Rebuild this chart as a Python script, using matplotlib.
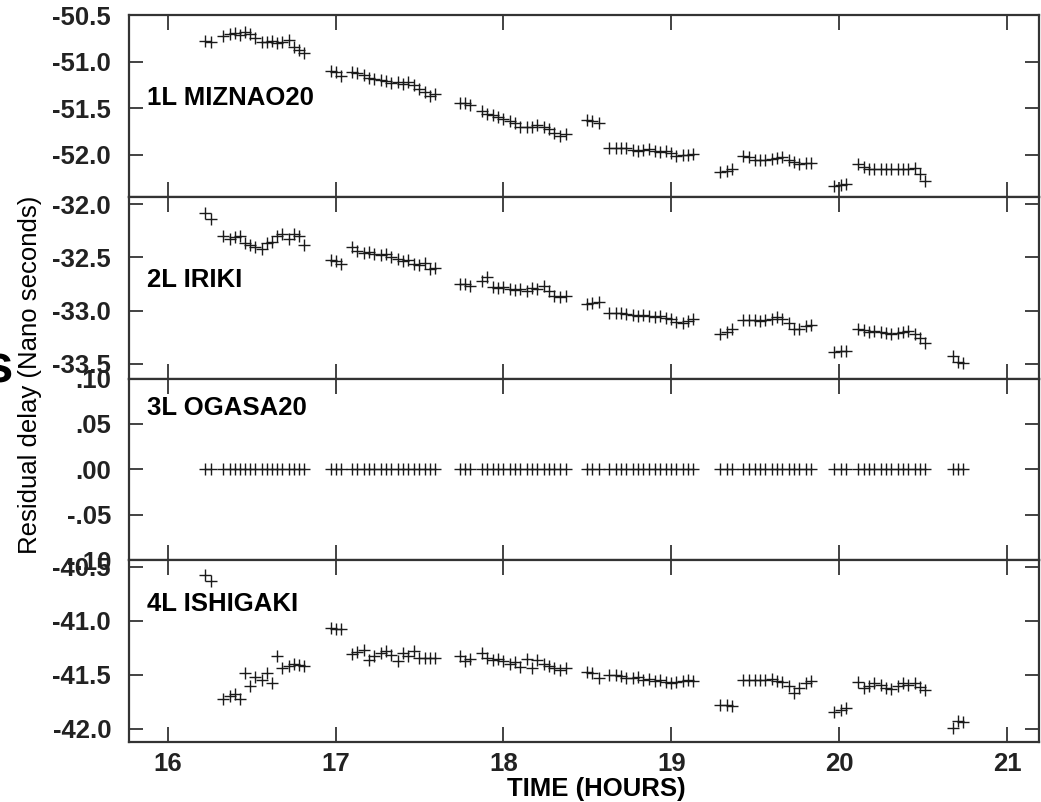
import numpy as np
import matplotlib
matplotlib.use("Agg")
import matplotlib.pyplot as plt

plt.rcParams['font.family'] = ['Liberation Sans', 'DejaVu Sans']

# scan times (hours), one list per scan block
t1 = [16.22, 16.26, 16.33, 16.37, 16.40, 16.43, 16.46, 16.49, 16.52, 16.56,
      16.59, 16.62, 16.65, 16.68, 16.72, 16.75, 16.78, 16.81]
t2 = [16.97, 17.00, 17.03, 17.10, 17.13, 17.17, 17.20, 17.23, 17.27, 17.30,
      17.33, 17.37, 17.40, 17.43, 17.47, 17.50, 17.53, 17.56, 17.59]
t3 = [17.74, 17.77, 17.80, 17.87, 17.90, 17.94, 17.97, 18.00, 18.04, 18.07,
      18.10, 18.14, 18.17, 18.20, 18.24, 18.27, 18.30, 18.34, 18.37]
t4 = [18.50, 18.53, 18.57, 18.63, 18.67, 18.70, 18.73, 18.77, 18.80, 18.83,
      18.87, 18.90, 18.93, 18.97, 19.00, 19.03, 19.07, 19.10, 19.13]
t5 = [19.29, 19.33, 19.36, 19.43, 19.46, 19.50, 19.53, 19.56, 19.60, 19.63,
      19.66, 19.70, 19.73, 19.76, 19.80, 19.83]
t6 = [19.97, 20.01, 20.04, 20.11, 20.15, 20.18, 20.21, 20.25, 20.28, 20.31,
      20.35, 20.38, 20.41, 20.45, 20.48, 20.51]
t7 = [20.68, 20.71, 20.74]

# 1L MIZNAO20
miz = [
    [-50.78, -50.79, -50.72, -50.70, -50.69, -50.71, -50.68, -50.70, -50.74, -50.79,
     -50.79, -50.78, -50.80, -50.79, -50.77, -50.84, -50.87, -50.91],
    [-51.10, -51.11, -51.15, -51.11, -51.12, -51.14, -51.17, -51.18, -51.20, -51.21,
     -51.23, -51.22, -51.24, -51.22, -51.25, -51.29, -51.32, -51.37, -51.35],
    [-51.44, -51.44, -51.46, -51.53, -51.56, -51.57, -51.59, -51.61, -51.63, -51.66,
     -51.70, -51.70, -51.70, -51.68, -51.70, -51.72, -51.76, -51.80, -51.78],
    [-51.62, -51.63, -51.66, -51.92, -51.92, -51.93, -51.92, -51.95, -51.96, -51.95,
     -51.94, -51.96, -51.97, -51.96, -51.98, -52.01, -52.00, -52.00, -51.99],
    [-52.18, -52.17, -52.15, -52.01, -52.02, -52.05, -52.05, -52.05, -52.04, -52.03,
     -52.02, -52.05, -52.08, -52.10, -52.09, -52.09],
    [-52.33, -52.32, -52.31, -52.10, -52.13, -52.15, -52.15, -52.15, -52.15, -52.15,
     -52.15, -52.15, -52.15, -52.14, -52.20, -52.28],
    [],
]

# 2L IRIKI
iri = [
    [-32.08, -32.14, -32.30, -32.33, -32.31, -32.30, -32.36, -32.38, -32.40, -32.42,
     -32.36, -32.35, -32.30, -32.28, -32.33, -32.28, -32.30, -32.38],
    [-32.52, -32.53, -32.56, -32.40, -32.44, -32.46, -32.45, -32.47, -32.48, -32.47,
     -32.50, -32.51, -32.53, -32.52, -32.56, -32.57, -32.55, -32.61, -32.60],
    [-32.75, -32.75, -32.77, -32.72, -32.68, -32.78, -32.79, -32.78, -32.80, -32.81,
     -32.80, -32.82, -32.79, -32.80, -32.77, -32.82, -32.86, -32.87, -32.86],
    [-32.94, -32.93, -32.92, -33.02, -33.02, -33.02, -33.03, -33.04, -33.05, -33.04,
     -33.05, -33.06, -33.05, -33.07, -33.08, -33.11, -33.12, -33.10, -33.08],
    [-33.22, -33.20, -33.17, -33.09, -33.09, -33.09, -33.10, -33.09, -33.08, -33.06,
     -33.08, -33.12, -33.17, -33.17, -33.15, -33.14],
    [-33.39, -33.38, -33.38, -33.17, -33.18, -33.20, -33.19, -33.20, -33.21, -33.22,
     -33.21, -33.20, -33.19, -33.22, -33.26, -33.31],
    [-33.43, -33.48, -33.49],
]

# 3L OGASA20 (reference station)
oga = [[0.0] * len(t) for t in (t1, t2, t3, t4, t5, t6, t7)]

# 4L ISHIGAKI
ish = [
    [-40.58, -40.63, -41.72, -41.70, -41.68, -41.72, -41.48, -41.60, -41.52, -41.55,
     -41.48, -41.58, -41.33, -41.44, -41.42, -41.40, -41.41, -41.42],
    [-41.07, -41.08, -41.08, -41.31, -41.29, -41.27, -41.36, -41.33, -41.30, -41.28,
     -41.32, -41.37, -41.30, -41.33, -41.28, -41.34, -41.34, -41.34, -41.34],
    [-41.33, -41.37, -41.35, -41.30, -41.34, -41.36, -41.35, -41.37, -41.40, -41.38,
     -41.43, -41.35, -41.44, -41.36, -41.40, -41.42, -41.44, -41.46, -41.44],
    [-41.47, -41.48, -41.53, -41.50, -41.50, -41.51, -41.53, -41.53, -41.52, -41.55,
     -41.54, -41.56, -41.55, -41.57, -41.58, -41.57, -41.56, -41.55, -41.56],
    [-41.78, -41.78, -41.79, -41.55, -41.55, -41.55, -41.55, -41.55, -41.54, -41.56,
     -41.57, -41.60, -41.67, -41.62, -41.58, -41.56],
    [-41.84, -41.83, -41.81, -41.57, -41.62, -41.60, -41.58, -41.59, -41.62, -41.63,
     -41.60, -41.58, -41.59, -41.58, -41.61, -41.64],
    [-41.99, -41.93, -41.94],
]

names = ["1L MIZNAO20", "2L IRIKI", "3L OGASA20", "4L ISHIGAKI"]
ylims = [(-52.45, -50.5), (-33.64, -31.93), (-0.10, 0.10), (-42.12, -40.44)]
yticks = [[-50.5, -51.0, -51.5, -52.0],
          [-32.0, -32.5, -33.0, -33.5],
          [0.10, 0.05, 0.0, -0.05, -0.10],
          [-40.5, -41.0, -41.5, -42.0]]
ytick_labels = [["-50.5", "-51.0", "-51.5", "-52.0"],
                ["-32.0", "-32.5", "-33.0", "-33.5"],
                [".10", ".05", ".00", "-.05", "-.10"],
                ["-40.5", "-41.0", "-41.5", "-42.0"]]
xticks = [16, 17, 18, 19, 20, 21]
times = [t1, t2, t3, t4, t5, t6, t7]
series = [miz, iri, oga, ish]
name_y = [0.545, 0.54, 0.84, 0.76]

fig, axes = plt.subplots(nrows=4, ncols=1, sharex=True, figsize=(10.41, 8.02), dpi=100)
fig.subplots_adjust(left=0.124, right=0.998, top=0.981, bottom=0.075, hspace=0)

for k, ax in enumerate(axes):
    xs = []
    ys = []
    for t, y in zip(times, series[k]):
        if len(y) == 0:
            continue
        xs += t
        ys += y
    ax.plot(xs, ys, linestyle="none", marker="+", markersize=8, markeredgewidth=1.0, color="#1a1a1a")

    ax.set_xlim(15.77, 21.19)
    ax.set_ylim(*ylims[k])
    ax.set_yticks(yticks[k])
    ax.set_yticklabels(ytick_labels[k])
    ax.set_xticks(xticks)
    ax.tick_params(axis="both", direction="in", top=True, right=True, width=1.2, colors="#222222",
                   labelsize=18.5)
    ax.tick_params(axis="x", length=11, pad=7)
    ax.tick_params(axis="y", length=10, pad=13)
    for lab in ax.get_yticklabels() + ax.get_xticklabels():
        lab.set_fontweight("bold")
    for sp in ax.spines.values():
        sp.set_linewidth(1.6)
        sp.set_color("#333333")
    ax.text(0.02, name_y[k], names[k], transform=ax.transAxes,
            fontsize=18.5, fontweight="bold", va="center", ha="left")

axes[-1].set_xticklabels([str(v) for v in xticks])
fig.text(596 / 1041, 1 - 789 / 802, "TIME (HOURS)", ha="center", va="center",
         fontsize=18.5, fontweight="bold")
fig.text(30 / 1041, 1 - 375 / 802, "Residual delay (Nano seconds)", rotation=90,
         ha="center", va="center", fontsize=18.5)
# clipped letter left over at the page edge
fig.text(-0.016, 1 - 383 / 802, "s", fontsize=38, fontweight="bold", ha="left", va="baseline")

fig.savefig("out.png", dpi=100)
